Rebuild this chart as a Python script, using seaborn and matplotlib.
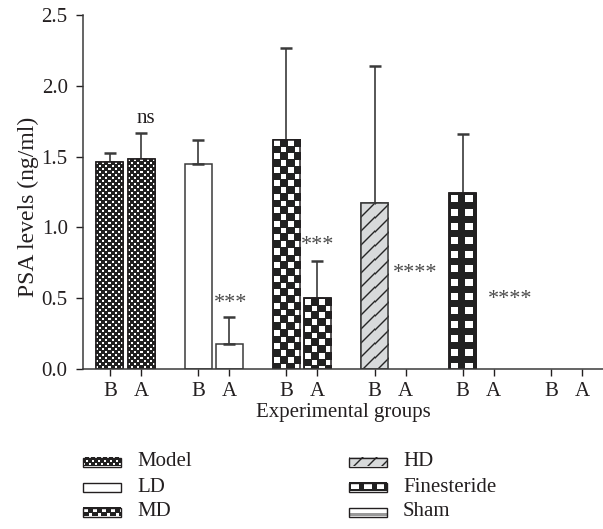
import numpy as np
import pandas as pd
import matplotlib
matplotlib.use('Agg')
import matplotlib.pyplot as plt
import seaborn as sns
from matplotlib.patches import Rectangle

# values (ng/ml)
groups = ['Model', 'LD', 'MD', 'HD', 'Finesteride', 'Sham']
phases = ['B', 'A']
before = [1.46, 1.45, 1.62, 1.17, 1.24, 0.0]
after = [1.48, 0.18, 0.50, 0.0, 0.0, 0.0]
before_err = [0.065, 0.17, 0.65, 0.97, 0.42, 0.0]
after_err = [0.19, 0.19, 0.26, 0.0, 0.0, 0.0]

# significance marks: (group, text, x offset from group centre, y)
marks = [('Model', 'ns', 0.23, 1.74),
         ('LD', '***', 0.19, 0.43),
         ('MD', '***', 0.18, 0.84),
         ('HD', '****', 0.28, 0.64),
         ('Finesteride', '****', 0.36, 0.46)]

INK = '#231f20'
W, H = 603, 529

sns.set_style('ticks')
plt.rcParams['font.family'] = ['Liberation Serif', 'DejaVu Serif']
plt.rcParams['font.size'] = 15
plt.rcParams['text.color'] = INK
plt.rcParams['axes.labelcolor'] = INK
plt.rcParams['xtick.color'] = INK
plt.rcParams['ytick.color'] = INK

df = pd.DataFrame({
    'group': groups * 2,
    'phase': ['B'] * 6 + ['A'] * 6,
    'value': before + after,
})


def texture(kind, w, h):
    r, c = np.mgrid[0:h, 0:w]
    img = np.ones((h, w, 3))
    if kind == 'Model':
        white = (((r // 3) + (c // 3)) % 2 == 0) & (r % 3 < 2) & (c % 3 < 2)
        img[~white] = 0.13
    elif kind == 'MD':
        cell = 6.75
        rr = (r + 0.5) / cell
        cc = (c + 0.5) / cell
        par = (np.floor(rr) + np.floor(cc)) % 2 == 0
        inner = ((rr % 1) > 0.12) & ((cc % 1) > 0.12)
        white = par & inner
        img[~white] = 0.13
    elif kind == 'Finesteride':
        cm = (c % 13.5)
        rm = (r % 14)
        white = (cm >= 1.5) & (cm < 9) & (rm >= 2) & (rm < 9)
        img[~white] = 0.13
    elif kind == 'HD':
        img[:] = np.array([0.85, 0.855, 0.86])
        d = ((r + 0.5) + (c + 0.5)) % 14
        dist = np.minimum(d, 14 - d) / np.sqrt(2)
        a = np.clip(1.2 - dist, 0, 1)[..., None]
        img = img * (1 - a) + 0.15 * a
    elif kind == 'Sham':
        img[h - 3:] = 0.6
    return img


fig = plt.figure(figsize=(W / 100, H / 100), dpi=100)
ax = fig.add_axes([83 / W, (H - 369) / H, (W - 83) / W, (369 - 15) / H])

sns.barplot(data=df, x='group', y='value', hue='phase', order=groups,
            hue_order=phases, palette=['white', 'white'], width=0.704,
            gap=0.13, errorbar=None, legend=False, edgecolor=INK,
            linewidth=1.1, ax=ax)

ax.set_xlim(-0.482, 5.414)
ax.set_ylim(0, 2.5)

# patterns per group, painted inside each seaborn bar
bar_x = {}
for p in list(ax.patches):
    xc = p.get_x() + p.get_width() / 2
    gi = int(round(xc))
    ph = 'B' if xc < gi else 'A'
    bar_x[(gi, ph)] = xc
    hgt = p.get_height()
    kind = groups[gi]
    if kind in ('LD', 'HD'):
        p.set_edgecolor('#3a3a3a')
    if hgt <= 0:
        p.set_linewidth(0)
        continue
    if kind == 'LD':
        continue
    (x0, y0), (x1, y1) = ax.transData.transform(
        [(p.get_x(), 0), (p.get_x() + p.get_width(), hgt)])
    wpx, hpx = max(int(round(x1 - x0)), 1), max(int(round(y1 - y0)), 1)
    ax.imshow(texture(kind, wpx, hpx), extent=(p.get_x(), p.get_x() + p.get_width(), 0, hgt),
              aspect='auto', interpolation='nearest', zorder=p.get_zorder() + 0.1)
    ax.add_patch(Rectangle((p.get_x(), 0), p.get_width(), hgt, fill=False,
                           edgecolor=p.get_edgecolor(), linewidth=1.1,
                           zorder=p.get_zorder() + 0.2))

# upper error bars only
for ph, vals, errs in [('B', before, before_err), ('A', after, after_err)]:
    for gi, (v, e) in enumerate(zip(vals, errs)):
        if e <= 0:
            continue
        ax.errorbar([bar_x[(gi, ph)]], [v], yerr=[[0], [e]], fmt='none',
                    ecolor='#3a3a3a', elinewidth=1.2, capsize=4.5, capthick=1.8,
                    zorder=1)

for g, txt, dx, y in marks:
    gi = groups.index(g)
    star = '*' in txt
    ax.text(gi + dx, y, txt, ha='center', va='baseline',
            fontsize=16 if star else 15,
            color='#4a4a4a' if star else INK)

ticks = []
labels = []
for gi in range(len(groups)):
    for ph in phases:
        ticks.append(bar_x[(gi, ph)])
        labels.append(ph)
ax.set_xticks(ticks)
ax.set_xticklabels(labels)
ax.set_yticks(np.arange(0, 2.51, 0.5))
ax.set_yticklabels([f'{t:.1f}' for t in np.arange(0, 2.51, 0.5)])
ax.tick_params(axis='both', length=5, width=1, direction='out', labelsize=15)
ax.tick_params(axis='y', pad=6)
ax.tick_params(axis='x', pad=4)
ax.set_xlabel('Experimental groups', fontsize=15, labelpad=2)
ax.set_ylabel('PSA levels (ng/ml)', fontsize=17)
ax.yaxis.set_label_coords((39 - 83) / (W - 83), (369 - 207) / (369 - 15))
sns.despine(ax=ax)
for s in ('left', 'bottom'):
    ax.spines[s].set_linewidth(1.1)
    ax.spines[s].set_color('#3a3a3a')

# hand-drawn legend, figure pixel coordinates
lax = fig.add_axes([0, 0, 1, 1])
lax.set_xlim(0, W)
lax.set_ylim(H, 0)
lax.axis('off')
lax.patch.set_alpha(0)
col_x = [83, 349]
row_y = [462, 487, 512]
pw, ph_ = 38, 9
for i, g in enumerate(groups):
    x = col_x[i // 3]
    y = row_y[i % 3]
    top = y - ph_ / 2
    if g != 'LD':
        img = texture(g, pw, ph_)
        if g == 'MD':
            r, c = np.mgrid[0:ph_, 0:pw]
            cell = 4.5
            white = (((r // cell) + (c // cell)) % 2 == 0) & (r % cell >= 1) & (c % cell >= 1)
            img = np.ones((ph_, pw, 3))
            img[~white] = 0.13
        if g == 'Finesteride':
            r, c = np.mgrid[0:ph_, 0:pw]
            cm = c % 12.7
            white = (cm >= 2) & (cm < 9.5) & (r >= 2) & (r < 7)
            img = np.ones((ph_, pw, 3))
            img[~white] = 0.13
        lax.imshow(img, extent=(x, x + pw, top + ph_, top), aspect='auto',
                   interpolation='nearest')
    lax.add_patch(Rectangle((x, top), pw, ph_, fill=False, edgecolor=INK, linewidth=1))
    lax.text(x + 54, y, g, ha='left', va='center', fontsize=15)

fig.savefig('out.png', dpi=100)
